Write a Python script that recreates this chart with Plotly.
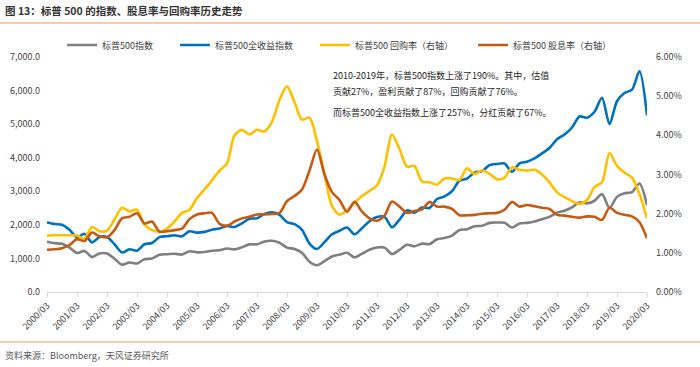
import plotly.graph_objects as go

# ---- data (quarterly, 2000/03 - 2020/03) ----
quarters = [f"{y}/{m:02d}" for y in range(2000, 2021) for m in (3, 6, 9, 12)][:81]
tick_labels = [f"{y}/03" for y in range(2000, 2021)]

spx = [1499, 1455, 1436, 1320, 1160, 1224, 1040, 1148, 1147, 990, 815, 880,
       848, 975, 996, 1112, 1126, 1141, 1115, 1212, 1181, 1191, 1229, 1248,
       1295, 1270, 1336, 1418, 1421, 1503, 1527, 1468, 1323, 1280, 1166, 903,
       798, 919, 1057, 1115, 1169, 1031, 1141, 1258, 1326, 1321, 1131, 1258,
       1408, 1362, 1441, 1426, 1569, 1606, 1682, 1848, 1872, 1960, 1972, 2059,
       2068, 2063, 1920, 2044, 2060, 2099, 2168, 2239, 2363, 2423, 2519, 2674,
       2641, 2718, 2914, 2507, 2834, 2942, 2977, 3231, 2585]

spx_tr = [2076, 2024, 2005, 1851, 1633, 1730, 1476, 1636, 1640, 1422, 1175, 1273,
          1232, 1423, 1458, 1635, 1662, 1690, 1658, 1809, 1769, 1791, 1856, 1891,
          1970, 1939, 2047, 2181, 2194, 2328, 2374, 2295, 2080, 2022, 1852, 1442,
          1281, 1484, 1718, 1823, 1923, 1720, 1900, 2107, 2234, 2239, 1928, 2157,
          2429, 2363, 2515, 2503, 2769, 2851, 3002, 3317, 3379, 3557, 3599, 3778,
          3815, 3827, 3581, 3833, 3883, 3978, 4130, 4288, 4549, 4689, 4899, 5228,
          5190, 5368, 5784, 5001, 5682, 5928, 6028, 6575, 5260]

buyback = [1.44, 1.45, 1.45, 1.45, 1.44, 1.36, 1.66, 1.55, 1.57, 1.85, 2.15, 2.06,
           2.10, 1.72, 1.58, 1.54, 1.62, 1.80, 2.02, 2.10, 2.40, 2.62, 2.85, 3.10,
           3.28, 4.00, 4.14, 4.02, 4.14, 4.10, 4.35, 4.90, 5.25, 4.85, 4.40, 4.45,
           3.85, 3.00, 2.20, 1.98, 2.08, 2.28, 2.45, 2.58, 2.72, 3.20, 4.02, 3.65,
           3.20, 3.22, 2.82, 2.80, 2.74, 2.90, 2.90, 2.86, 3.16, 3.01, 3.11, 3.02,
           2.88, 2.92, 3.18, 3.12, 3.10, 3.12, 3.00, 2.80, 2.55, 2.42, 2.32, 2.25,
           2.35, 2.68, 2.80, 3.55, 3.22, 3.05, 2.92, 2.50, 1.88]

div_yield = [1.08, 1.09, 1.12, 1.20, 1.35, 1.30, 1.52, 1.42, 1.40, 1.58, 1.88, 1.92,
             2.01, 1.75, 1.80, 1.54, 1.55, 1.58, 1.62, 1.86, 1.98, 2.01, 2.02, 1.74,
             1.69, 1.80, 1.88, 1.92, 1.98, 1.98, 1.99, 2.02, 2.32, 2.45, 2.62, 3.10,
             3.64, 3.00, 2.55, 2.35, 2.05, 2.30, 2.05, 1.88, 1.82, 1.95, 2.31, 2.18,
             2.02, 2.07, 2.11, 2.30, 2.18, 2.18, 2.12, 1.96, 1.96, 1.97, 2.00, 2.01,
             2.02, 2.10, 2.30, 2.18, 2.22, 2.19, 2.15, 2.12, 1.97, 1.95, 1.92, 1.90,
             1.93, 1.92, 1.84, 2.15, 2.02, 1.97, 1.93, 1.78, 1.37]

names = ["标普500指数", "标普500全收益指数", "标普500 回购率（右轴）", "标普500 股息率（右轴）"]
colors = ["#7F7F7F", "#0070C0", "#FFC000", "#C55A11"]

FONT = "Noto Sans CJK SC"

W, H = 700, 367
L, R, T, B = 47, 53, 57, 75
pw, ph = W - L - R, H - T - B

def px(xp):
    return (xp - L) / pw

def py(yp):
    return (H - B - yp) / ph

series = [(spx, "y"), (spx_tr, "y"), (buyback, "y2"), (div_yield, "y2")]
legend_ids = ["legend", "legend2", "legend3", "legend4"]
legend_x = [62, 175, 315, 473]

fig = go.Figure()
for (vals, ax), nm, col, lg in zip(series, names, colors, legend_ids):
    fig.add_trace(go.Scatter(x=quarters, y=vals, name=nm, mode="lines", yaxis=ax, legend=lg,
                             line=dict(color=col, width=2.6, shape="spline", smoothing=0.8)))

legend_common = dict(orientation="h", xanchor="left", yanchor="middle",
                     font=dict(size=9, color="#404040", family=FONT),
                     bgcolor="rgba(0,0,0,0)", itemwidth=30)

fig.update_layout(
    width=W, height=H,
    margin=dict(l=L, r=R, t=T, b=B, autoexpand=False),
    paper_bgcolor="white", plot_bgcolor="white",
    font=dict(family=FONT, size=9, color="#404040"),
    showlegend=True,
    xaxis=dict(type="category", range=[0, 80], tickmode="array", tickvals=tick_labels,
               ticktext=tick_labels, tickangle=-45, ticks="outside", ticklen=4,
               tickcolor="#D9D9D9", showline=True, linecolor="#D9D9D9", linewidth=1,
               showgrid=False, zeroline=False, automargin=False,
               tickfont=dict(size=9, color="#404040")),
    yaxis=dict(range=[0, 7000], dtick=1000, tickformat=",.1f", showgrid=False,
               zeroline=False, showline=False, ticks="", automargin=False,
               ticklabelstandoff=6, tickfont=dict(size=9, color="#404040")),
    yaxis2=dict(range=[0, 6], dtick=1, tickformat=".2f", ticksuffix="%", overlaying="y",
                side="right", showgrid=False, zeroline=False, showline=False, ticks="",
                automargin=False, ticklabelstandoff=8,
                tickfont=dict(size=9, color="#404040")),
)
for lg, lx in zip(legend_ids, legend_x):
    fig.update_layout({lg: dict(legend_common, x=px(lx), y=py(45))})

# title, source, separator lines
fig.add_annotation(text="<b>图 13：标普 500 的指数、股息率与回购率历史走势</b>", xref="paper", yref="paper",
                   x=px(3), y=py(11), xanchor="left", yanchor="middle", showarrow=False,
                   font=dict(size=10.5, color="#333333", family=FONT))
fig.add_annotation(text="资料来源：Bloomberg，天风证券研究所", xref="paper", yref="paper",
                   x=px(3), y=py(355), xanchor="left", yanchor="middle", showarrow=False,
                   font=dict(size=9, color="#595959", family=FONT))
for yy in (23, 342):
    fig.add_shape(type="line", xref="paper", yref="paper", x0=px(0), x1=px(700),
                  y0=py(yy), y1=py(yy), line=dict(color="#F8CBAD", width=2))

notes = [("2010-2019年，标普500指数上涨了190%。其中，估值", 75),
         ("贡献27%，盈利贡献了87%，回购贡献了76%。", 91),
         ("而标普500全收益指数上涨了257%，分红贡献了67%。", 112)]
for txt, yy in notes:
    fig.add_annotation(text=txt, xref="paper", yref="paper", x=px(331), y=py(yy),
                       xanchor="left", yanchor="middle", showarrow=False,
                       font=dict(size=9, color="#262626", family=FONT))

# remove the page's default body margin so the figure sits at the window origin
fig.write_html("out.html", config={"displayModeBar": False},
               post_script="document.body.style.margin='0';document.body.style.overflow='hidden';")
